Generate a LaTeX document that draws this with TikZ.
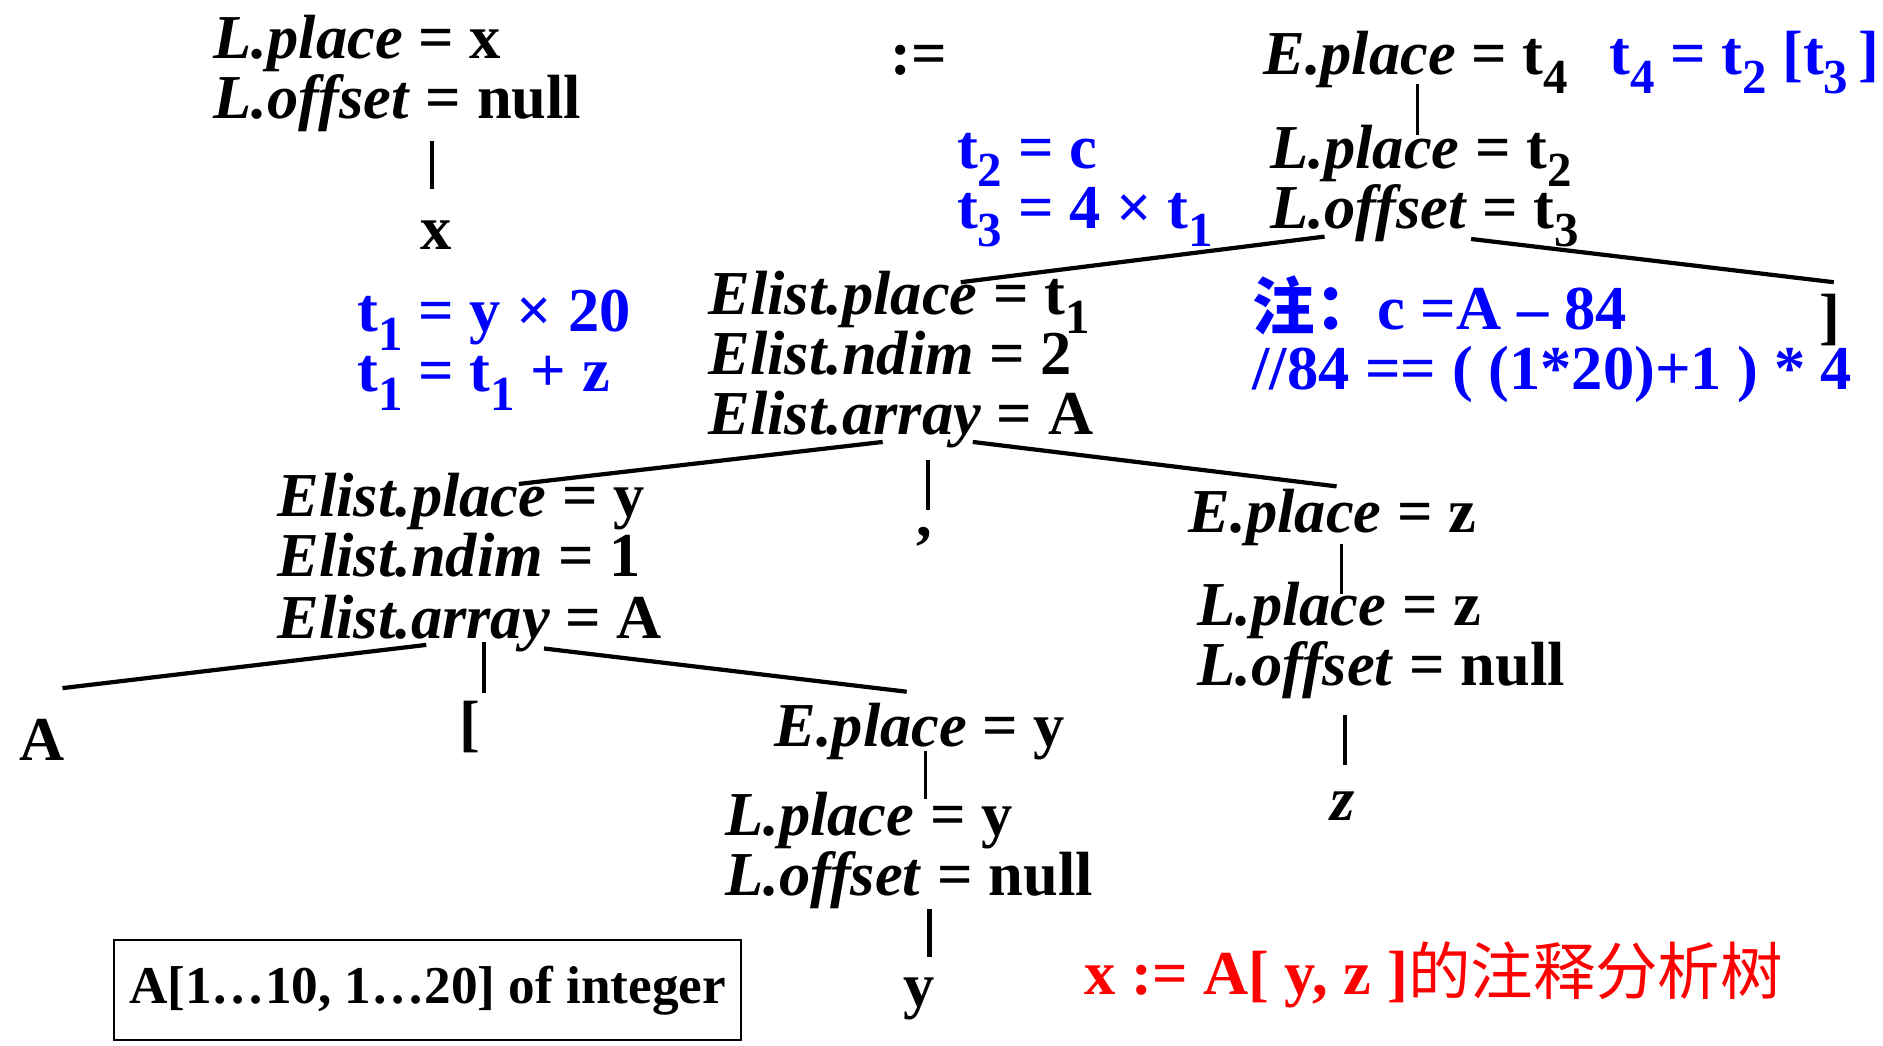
\documentclass[tikz,border=0pt]{standalone}
\usepackage{fontspec}
\setmainfont{Liberation Serif}
\newfontfamily\cjk{Noto Sans CJK SC}
\definecolor{tblue}{RGB}{0,0,255}
\definecolor{tred}{RGB}{255,0,0}
\newcommand\sbs[1]{\raisebox{-0.3em}{\fontsize{29}{29}\selectfont #1}}
\begin{document}
\begin{tikzpicture}[x=0.025cm,y=-0.025cm,
  lbl/.style={inner sep=0pt, outer sep=0pt, anchor=base west, font=\fontsize{37}{40}\selectfont\bfseries},
  lblc/.style={lbl, anchor=base},
  blu/.style={lbl, text=tblue},
  edge/.style={line width=2.5pt},
  vedge/.style={line width=2.4pt},
  tedge/.style={line width=1.8pt}]
\useasboundingbox (0,0) rectangle (1568,871);

% top-left subtree
\node[lbl] (r1a) at (178,49) {\textit{L.place} = x};
\node[lbl] (r1b) at (178,99) {\textit{L.offset} = null};
\node[lblc] (xleaf) at (363,208) {x};

% root row
\node[lblc] (assign) at (765,62) {:=};
\node[lbl] (ep4) at (1052,62) {\textit{E.place} = t\sbs{4}};
\node[blu] (t4eq) at (1340,62) {t\sbs{4} = t\sbs{2} [t\sbs{3}\,]};
\node[lbl] (lp2) at (1058,140) {\textit{L.place} = t\sbs{2}};
\node[lbl] (lo3) at (1058,190) {\textit{L.offset} = t\sbs{3}};
\node[blu] (t2eq) at (797,140) {t\sbs{2} = c};
\node[blu] (t3eq) at (797,190) {t\sbs{3} = 4 × t\sbs{1}};

% Elist (ndim 2)
\node[lbl] (el1a) at (590,262) {\textit{Elist.place} = t\sbs{1}};
\node[lbl] (el1b) at (590,312) {\textit{Elist.ndim} = 2};
\node[lbl] (el1c) at (590,362) {\textit{Elist.array} = A};
\node[blu] (t1a) at (298,276) {t\sbs{1} = y × 20};
\node[blu] (t1b) at (298,326) {t\sbs{1} = t\sbs{1} + z};
\node[blu] (note1) at (1043,274) {{\cjk 注：}c =A – 84};
\node[blu] (note2) at (1043,324) {//84 == ( (1*20)+1 ) * 4};
\node[lbl] (rb) at (1515,281) {]};

% second level
\node[lblc] (comma) at (770,447) {,};
\node[lbl] (el2a) at (231,430) {\textit{Elist.place} = y};
\node[lbl] (el2b) at (231,480) {\textit{Elist.ndim} = 1};
\node[lbl] (el2c) at (231,532) {\textit{Elist.array} = A};
\node[lbl] (epz) at (990,443) {\textit{E.place} = z};
\node[lbl] (lpz) at (997,521) {\textit{L.place} = z};
\node[lbl] (loz) at (997,571) {\textit{L.offset} = null};
\node[lblc] (zleaf) at (1118,683) {\textit{z}};

% third level
\node[lblc] (aleaf) at (35,633) {A};
\node[lblc] (lbr) at (391,620) {[};
\node[lbl] (epy) at (645,622) {\textit{E.place} = y};
\node[lbl] (lpy) at (604,696) {\textit{L.place} = y};
\node[lbl] (loy) at (604,746) {\textit{L.offset} = null};
\node[lblc] (yleaf) at (765,838) {y};

% declaration box and caption
\node[draw, line width=1.3pt, inner sep=0pt, minimum width=13.05cm, minimum height=2.075cm,
      font=\fontsize{31.5}{31.5}\selectfont\bfseries] (decl) at (356,824.5) {A[1…10, 1…20] of integer};
\node[lbl, text=tred] (cap) at (903,828) {x := A[ y, z ]{\cjk\mdseries 的注释分析树}};

% connector end points
\coordinate (a1) at (360,117); \coordinate (a2) at (360,157);
\coordinate (b1) at (1180,70); \coordinate (b2) at (1180,112);
\coordinate (c1) at (1103,197); \coordinate (c2) at (800,235);
\coordinate (d1) at (1225,199); \coordinate (d2) at (1527,235);
\coordinate (e1) at (735,368); \coordinate (e2) at (432,403);
\coordinate (f1) at (773,383); \coordinate (f2) at (773,425);
\coordinate (g1) at (810,368); \coordinate (g2) at (1113,405);
\coordinate (h1) at (1117,453); \coordinate (h2) at (1117,495);
\coordinate (i1) at (1120,595); \coordinate (i2) at (1120,637);
\coordinate (j1) at (355,537); \coordinate (j2) at (52,573);
\coordinate (k1) at (403,535); \coordinate (k2) at (403,577);
\coordinate (l1) at (453,540); \coordinate (l2) at (755,576);
\coordinate (m1) at (771,625); \coordinate (m2) at (771,665);
\coordinate (n1) at (774,757); \coordinate (n2) at (774,797);

\draw[vedge] (a1) -- (a2);
\draw[tedge] (b1) -- (b2);
\draw[edge] (c1) -- (c2);
\draw[edge] (d1) -- (d2);
\draw[edge] (e1) -- (e2);
\draw[vedge] (f1) -- (f2);
\draw[edge] (g1) -- (g2);
\draw[tedge] (h1) -- (h2);
\draw[vedge] (i1) -- (i2);
\draw[edge] (j1) -- (j2);
\draw[vedge] (k1) -- (k2);
\draw[edge] (l1) -- (l2);
\draw[tedge] (m1) -- (m2);
\draw[vedge] (n1) -- (n2);
\end{tikzpicture}
\end{document}
